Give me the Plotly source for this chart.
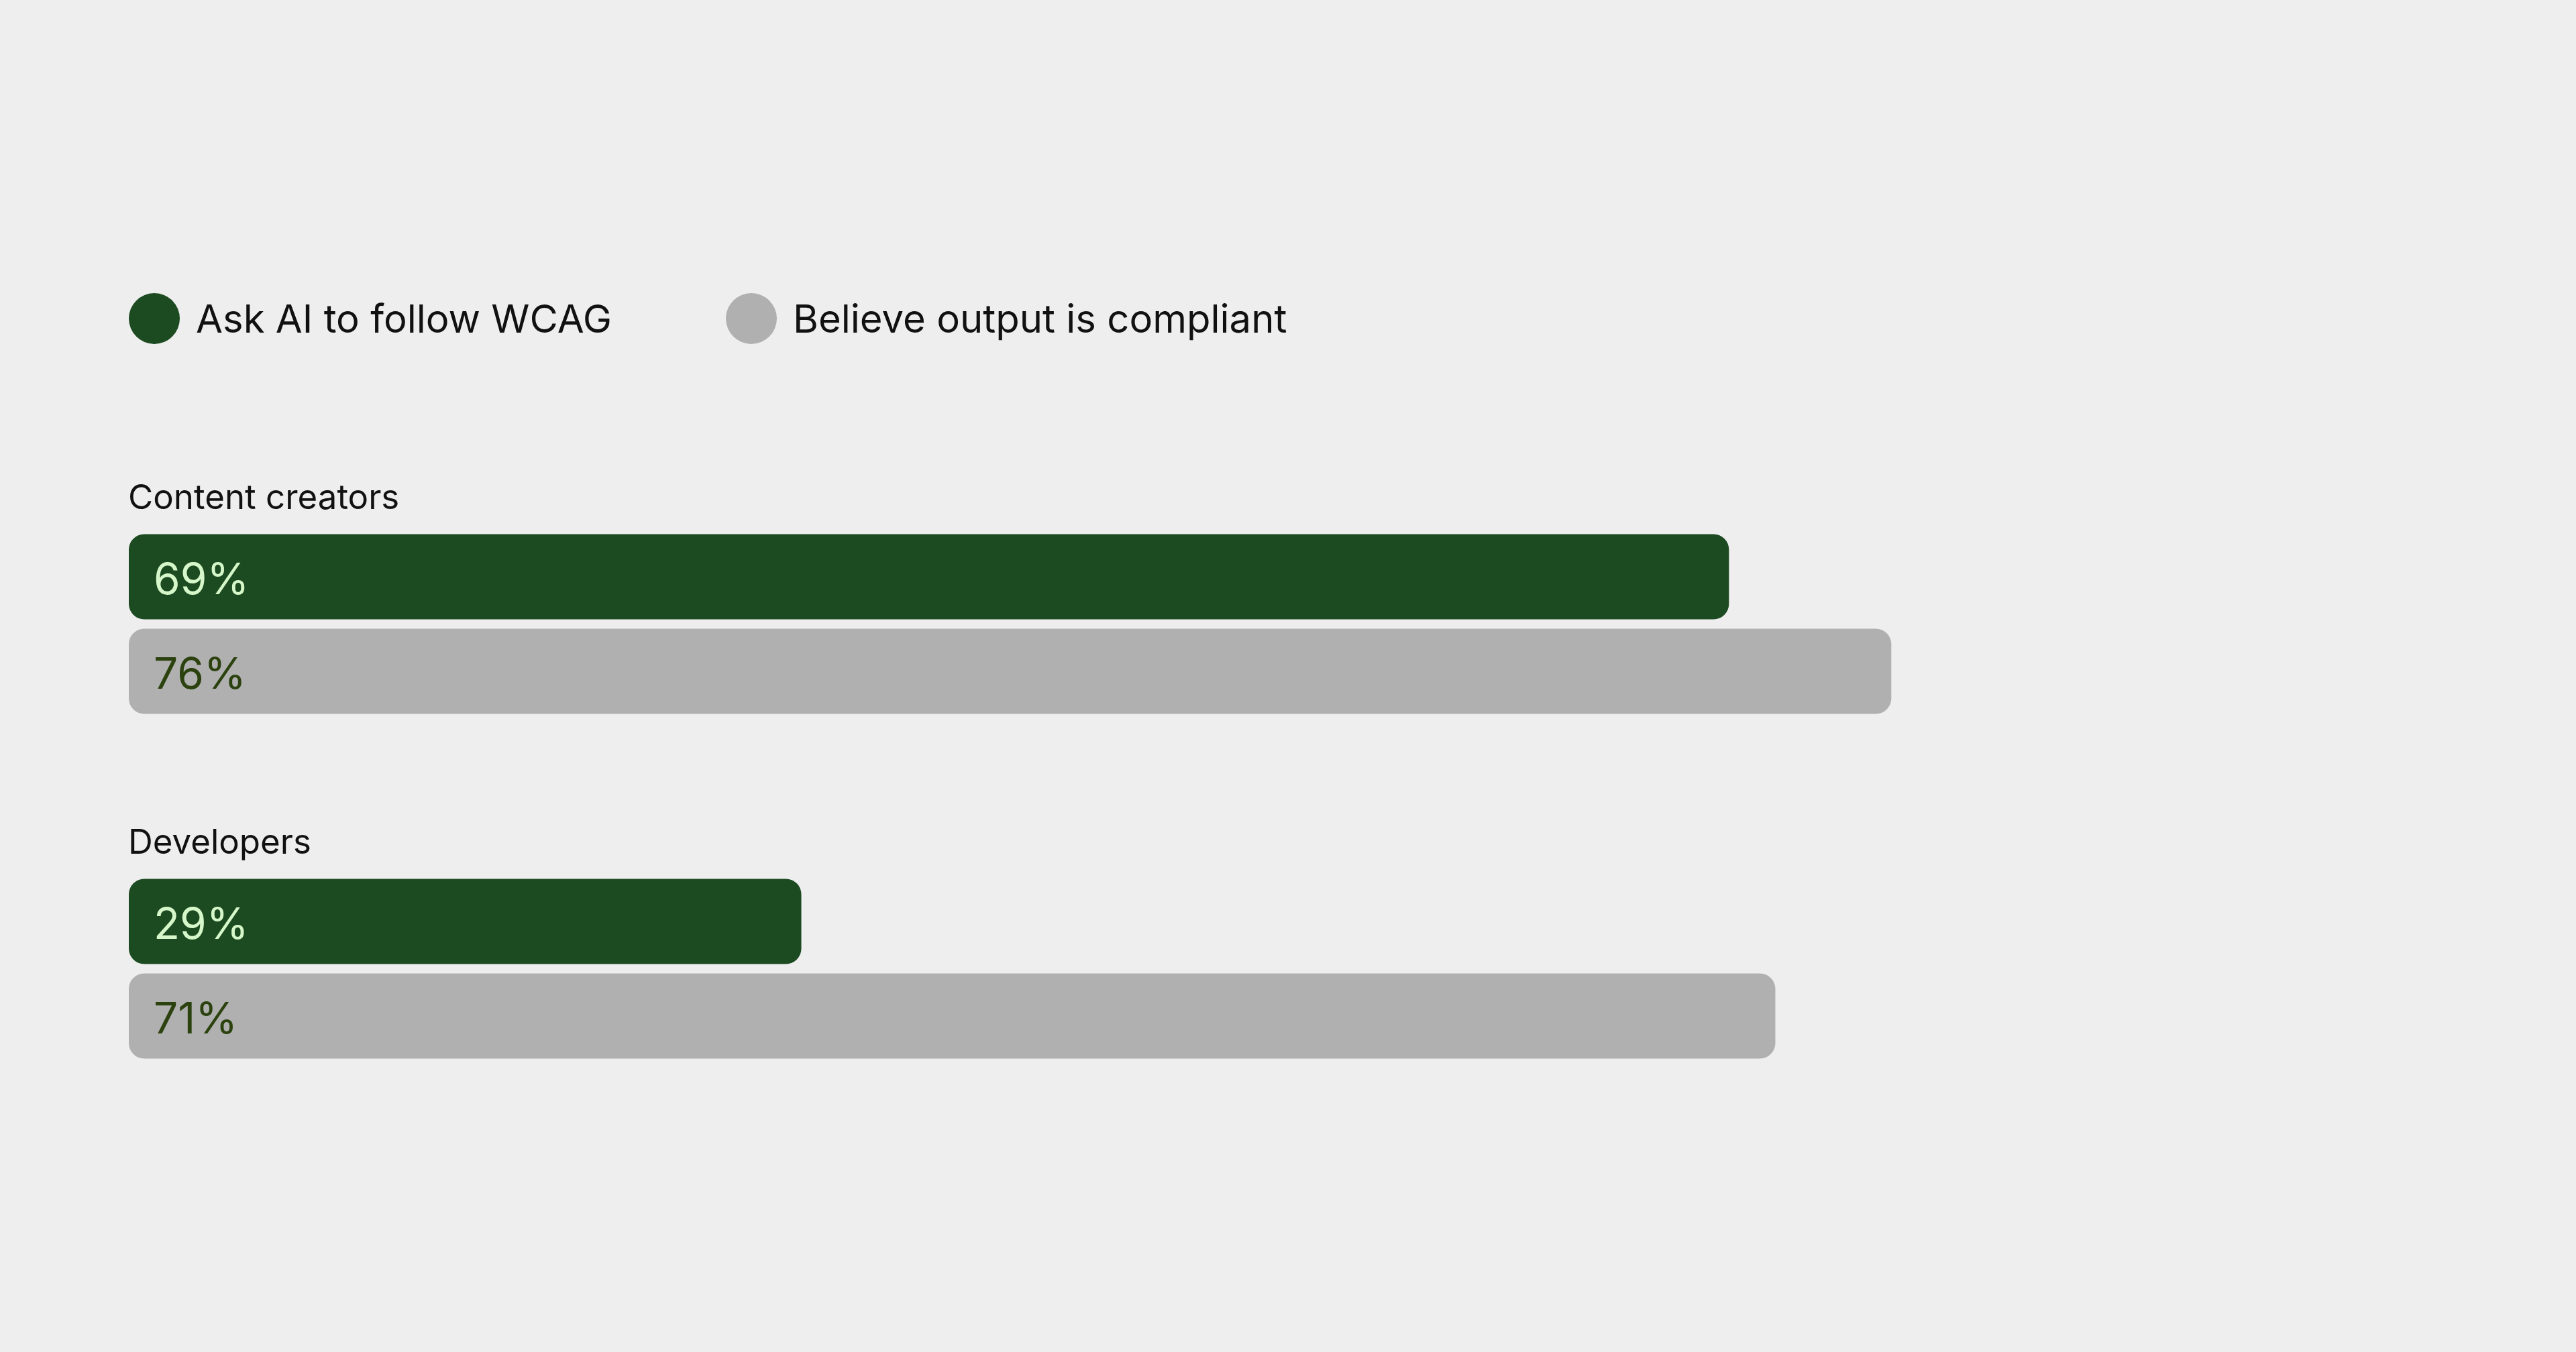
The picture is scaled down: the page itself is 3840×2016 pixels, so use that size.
import plotly.graph_objects as go

groups = ["Content creators", "Developers"]
series = ["Ask AI to follow WCAG", "Believe output is compliant"]
ask_ai = [69, 29]
believe = [76, 71]

colors = ["#1c4a21", "#b0b0b0"]
text_colors = ["#d6f7c9", "#2b420f"]
bg = "#eeeeee"
font = "Inter"

W, H = 3840, 2016
px_per_pct = 34.57
x_left = 192

# vertical layout (pixel units on the y axis)
first_bar = 860
row_step = 141
group_step = 514
bar_w = 127

fig = go.Figure()

values = [ask_ai, believe]
for si, name in enumerate(series):
    ys = [first_bar + gi * group_step + si * row_step for gi in range(len(groups))]
    fig.add_trace(go.Bar(
        x=values[si], y=ys, base=0, orientation="h", width=bar_w,
        marker=dict(color=colors[si], cornerradius=23, line=dict(width=0)),
        name=name, showlegend=False, hoverinfo="skip",
    ))
    for gi, v in enumerate(values[si]):
        fig.add_annotation(
            x=0, y=ys[gi], text=f"{v}%", showarrow=False, xanchor="left",
            xshift=35, yshift=-2, font=dict(family=font, size=64, color=text_colors[si]),
        )

for gi, g in enumerate(groups):
    fig.add_annotation(
        x=0, y=first_bar + gi * group_step - 120, text=g, showarrow=False,
        xanchor="left", xshift=-3, font=dict(family=font, size=51, color="#111111"),
    )

# custom legend with circles
legend_y = 475
legend_x = [230, 1120]
for si, name in enumerate(series):
    cx = (legend_x[si] - x_left) / px_per_pct
    fig.add_trace(go.Scatter(
        x=[cx], y=[legend_y], mode="markers",
        marker=dict(size=76, color=colors[si], line=dict(width=0)),
        showlegend=False, hoverinfo="skip", cliponaxis=False,
    ))
    fig.add_annotation(
        x=cx, y=legend_y, text=name, showarrow=False, xanchor="left",
        xshift=60, font=dict(family=font, size=58, color="#111111"),
    )

fig.update_layout(
    width=W, height=H,
    margin=dict(l=0, r=0, t=0, b=0),
    paper_bgcolor=bg, plot_bgcolor=bg,
    barmode="overlay",
    xaxis=dict(range=[-x_left / px_per_pct, (W - x_left) / px_per_pct],
               visible=False, fixedrange=True),
    yaxis=dict(range=[H, 0], visible=False, fixedrange=True),
    showlegend=False,
)

fig.write_html(
    "out.html",
    config={"displayModeBar": False},
    post_script="document.body.style.margin='0';document.body.style.background='#eeeeee';",
)
